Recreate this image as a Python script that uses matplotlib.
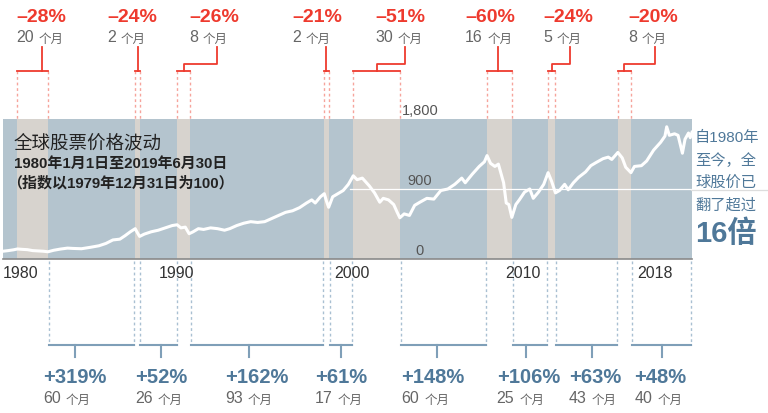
import matplotlib
matplotlib.use("Agg")
import matplotlib.pyplot as plt
from matplotlib.transforms import blended_transform_factory

plt.rcParams['font.family'] = ['Noto Sans CJK SC', 'DejaVu Sans']
NUM_FONT = ['Liberation Sans', 'Noto Sans CJK SC']

# 指数走势（年份, 指数值）
years = [1980.0, 1980.3, 1980.6, 1980.83, 1981.1, 1981.4, 1981.7, 1982.0, 1982.3, 1982.58,
         1982.9, 1983.3, 1983.7, 1984.0, 1984.5, 1985.0, 1985.5, 1985.9, 1986.3, 1986.7,
         1987.0, 1987.3, 1987.58, 1987.7, 1987.83, 1988.1, 1988.5, 1988.9, 1989.3, 1989.7,
         1989.98, 1990.2, 1990.45, 1990.67, 1990.9, 1991.2, 1991.5, 1991.9, 1992.3, 1992.7,
         1993.0, 1993.4, 1993.8, 1994.2, 1994.6, 1995.0, 1995.4, 1995.8, 1996.2, 1996.6,
         1997.0, 1997.4, 1997.7, 1997.9, 1998.2, 1998.42, 1998.55, 1998.67, 1998.9, 1999.2,
         1999.5, 1999.8, 2000.08, 2000.3, 2000.6, 2000.8, 2001.0, 2001.3, 2001.6, 2001.8,
         2002.1, 2002.4, 2002.6, 2002.75, 2003.0, 2003.3, 2003.6, 2003.9, 2004.3, 2004.7,
         2005.1, 2005.5, 2005.9, 2006.3, 2006.5, 2006.9, 2007.3, 2007.6, 2007.75, 2007.95,
         2008.2, 2008.4, 2008.7, 2008.85, 2009.0, 2009.17, 2009.4, 2009.6, 2009.9, 2010.2,
         2010.4, 2010.7, 2011.0, 2011.25, 2011.45, 2011.67, 2011.9, 2012.2, 2012.4, 2012.7,
         2013.0, 2013.4, 2013.7, 2014.0, 2014.4, 2014.7, 2014.9, 2015.25, 2015.5, 2015.7,
         2016.0, 2016.2, 2016.6, 2016.9, 2017.3, 2017.7, 2017.95, 2018.05, 2018.2, 2018.5,
         2018.7, 2018.8, 2018.95, 2019.1, 2019.3, 2019.4, 2019.5]
index = [100, 108, 118, 129, 124, 120, 108, 104, 100, 93,
         112, 128, 140, 136, 132, 150, 170, 200, 245, 255,
         300, 350, 390, 340, 290, 320, 350, 370, 400, 430,
         440, 400, 410, 325, 350, 390, 380, 400, 390, 370,
         390, 430, 460, 480, 470, 480, 520, 560, 600, 620,
         660, 720, 760, 720, 800, 840, 740, 665, 800, 840,
         880, 960, 1070, 1020, 1040, 990, 940, 850, 730, 780,
         760, 700, 600, 530, 580, 560, 690, 730, 780, 770,
         880, 900, 960, 1040, 980, 1090, 1190, 1250, 1330, 1230,
         1190, 1220, 980, 720, 700, 535, 700, 760, 860, 900,
         780, 860, 960, 1110, 1000, 850, 880, 960, 890, 980,
         1050, 1120, 1200, 1240, 1290, 1310, 1280, 1370, 1300, 1180,
         1110, 1190, 1200, 1260, 1400, 1500, 1580, 1700, 1590, 1610,
         1590, 1500, 1360, 1540, 1620, 1560, 1630]

# 熊市区间
bear_start = [1980.83, 1987.58, 1990.0, 1998.42, 2000.08, 2007.75, 2011.25, 2015.25]
bear_end = [1982.58, 1987.83, 1990.72, 1998.69, 2002.75, 2009.17, 2011.67, 2016.0]
bear_drop = ['–28%', '–24%', '–26%', '–21%', '–51%', '–60%', '–24%', '–20%']
bear_months = [20, 2, 8, 2, 30, 16, 5, 8]

# 牛市（两次熊市之间）
bull_gain = ['+319%', '+52%', '+162%', '+61%', '+148%', '+106%', '+63%', '+48%']
bull_months = [60, 26, 93, 17, 60, 25, 43, 40]

x_labels = ['1980', '1990', '2000', '2010', '2018']
y_labels = ['0', '900', '1,800']
y_values = [0, 900, 1800]

# 标注位置（年份坐标）
bear_text_x = [1980.75, 1985.96, 1990.66, 1996.57, 2001.33, 2006.49, 2010.96, 2015.83]
bear_tick_x = [1982.24, 1987.74, 1992.27, 1998.52, 2003.05, 2008.38, 2012.5, 2017.38]
bull_text_x = [1982.3, 1987.57, 1992.73, 1997.9, 2002.85, 2008.3, 2012.45, 2016.2]
bull_tick_x = [1984.1, 1989.06, 1994.1, 1999.4, 2004.9, 2009.98, 2013.77, 2017.79]
x_label_pos = [1980.0, 1989.92, 2000.0, 2009.81, 2017.38]

RED = '#ee3a2e'
RED_LIGHT = '#f6a49c'
BLUE_TXT = '#4f7899'
BLUE_LINE = '#7f9fb8'
BLUE_DASH = '#a9c0d2'
GRAY_TXT = '#666666'
BG_BLUE = '#b4c4ce'
BG_GRAY = '#d7d3ce'

W, H = 768, 414
fig = plt.figure(figsize=(W / 100, H / 100), dpi=100)
ax = fig.add_axes([3 / W, 1 - 260 / H, 689 / W, 140 / H])
ax.set_xlim(1980.0, 2019.5)
ax.set_ylim(0, 1800)
ax.set_facecolor(BG_BLUE)
for s in ['top', 'right', 'left']:
    ax.spines[s].set_visible(False)
ax.spines['bottom'].set_color('#8a8a8a')
ax.spines['bottom'].set_linewidth(1.2)
ax.set_yticks([])
ax.set_xticks([])

for s, e in zip(bear_start, bear_end):
    ax.axvspan(s, e, color=BG_GRAY, lw=0, zorder=1)

ax.plot(years, index, color='white', lw=2.2, zorder=3, solid_joinstyle='round')

# 900 参考线
ax.plot([1999.9, 2019.5], [900, 900], color='white', lw=0.9, zorder=2)

for v, lab in zip(y_values, y_labels):
    ax.text(2003.9, v + 20, lab, ha='center', va='bottom', fontsize=10.5, family=NUM_FONT,
            color='#555555', zorder=4, clip_on=False)


def fy(p):
    return 1 - p / H


tr = blended_transform_factory(ax.transData, fig.transFigure)
fig.add_artist(plt.Line2D([0.9, 1.0], [fy(191), fy(191)], color='#dddddd', lw=0.9,
                          transform=fig.transFigure))

for xp, lab in zip(x_label_pos, x_labels):
    ha = 'left' if lab == '1980' else 'center'
    fig.text(xp, fy(273), lab, transform=tr, ha=ha, va='center', fontsize=11.5,
             family=NUM_FONT, color='#333333')

# 标题
fig.text(14 / W, fy(143), '全球股票价格波动', fontsize=13.3, color='#222222', va='center')
fig.text(14 / W, fy(164), '1980年1月1日至2019年6月30日', fontsize=10.8, fontweight='bold',
         family=NUM_FONT, color='#222222', va='center')
fig.text(7 / W, fy(183), '（指数以1979年12月31日为100）', fontsize=10.8, fontweight='bold',
         family=NUM_FONT, color='#222222', va='center')

# 右侧说明
for i, line in enumerate(['自1980年', '至今，全', '球股价已', '翻了超过']):
    fig.text(695 / W, fy(138 + i * 22.3), line, fontsize=11, family=NUM_FONT,
             color=BLUE_TXT, va='center')
fig.text(695 / W, fy(234), '16倍', fontsize=21, fontweight='bold', family=NUM_FONT,
         color=BLUE_TXT, va='center')


def month_label(x, ypix, n):
    t = fig.text(x, fy(ypix), str(n), transform=tr, fontsize=11.5, family=NUM_FONT,
                 color=GRAY_TXT, va='center')
    fig.add_artist(plt.Annotation('个月', xy=(1, 0.42), xycoords=t, xytext=(3.5, 0),
                                  textcoords='offset points', fontsize=9, color=GRAY_TXT,
                                  va='center', ha='left'))


# 熊市标注
for i in range(len(bear_start)):
    s, e = bear_start[i], bear_end[i]
    mid = (s + e) / 2
    for xx in (s, e):
        fig.add_artist(plt.Line2D([xx, xx], [fy(72), fy(120)], color=RED_LIGHT, lw=1,
                                  ls=(0, (2, 2)), transform=tr))
    fig.add_artist(plt.Line2D([s, e], [fy(72), fy(72)], color=RED, lw=1.3, transform=tr))
    tx = bear_tick_x[i]
    if s <= tx <= e:
        xs, ys = [tx, tx], [fy(48), fy(72)]
    else:
        xs, ys = [tx, tx, mid, mid], [fy(48), fy(65), fy(65), fy(72)]
    fig.add_artist(plt.Line2D(xs, ys, color=RED, lw=1.3, transform=tr))
    fig.text(bear_text_x[i], fy(17), bear_drop[i], transform=tr, fontsize=14,
             fontweight='bold', family=NUM_FONT, color=RED, va='center')
    month_label(bear_text_x[i], 38, bear_months[i])

# 牛市标注
bull_start = bear_end
bull_end = bear_start[1:] + [2019.5]
for i in range(len(bull_gain)):
    s, e = bull_start[i] + 0.05, bull_end[i] - 0.05
    for xx in (s, e):
        fig.add_artist(plt.Line2D([xx, xx], [fy(262), fy(346)], color=BLUE_DASH, lw=1,
                                  ls=(0, (2, 2)), transform=tr))
    fig.add_artist(plt.Line2D([s, e], [fy(346), fy(346)], color=BLUE_LINE, lw=1.5, transform=tr))
    fig.add_artist(plt.Line2D([bull_tick_x[i]] * 2, [fy(346), fy(358)], color=BLUE_LINE,
                              lw=1.5, transform=tr))
    fig.text(bull_text_x[i], fy(378), bull_gain[i], transform=tr, fontsize=14.5,
             fontweight='bold', family=NUM_FONT, color=BLUE_TXT, va='center')
    month_label(bull_text_x[i], 399, bull_months[i])

fig.savefig('out.png', dpi=100)
